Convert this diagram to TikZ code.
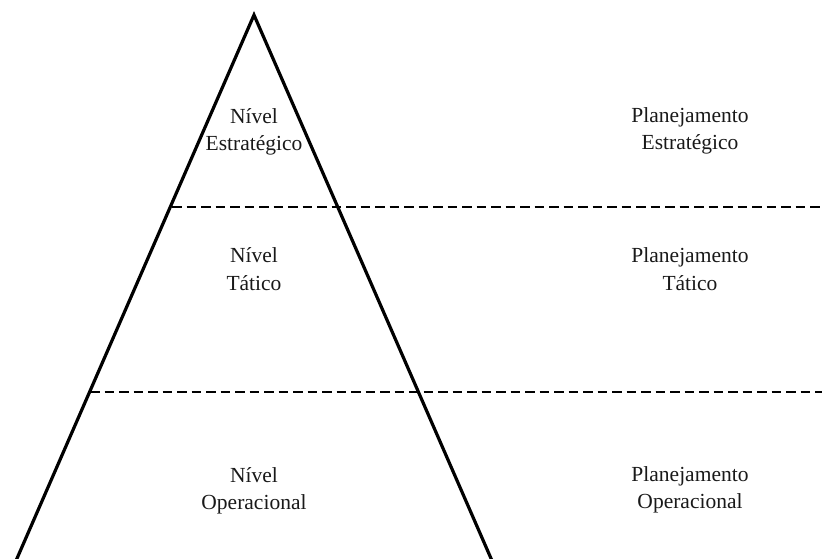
\documentclass[tikz,border=0pt]{standalone}
\usepackage{fontspec}
\setmainfont{Liberation Serif}
\begin{document}
\begin{tikzpicture}[x=1pt,y=-1pt,
  lbl/.style={align=center,font=\fontsize{21.5}{27.5}\selectfont,text=black!90,inner sep=0pt},
  edge/.style={line width=3.2pt,line join=miter},
  sep/.style={line width=2.7pt,dash pattern=on 9.5pt off 5pt}]
\useasboundingbox (0,0) rectangle (822,559);
\begin{scope}
\clip (0,0) rectangle (822,559);
\coordinate (apex) at (254,15);
\coordinate (bl) at (15,563);
\coordinate (br) at (493,563);
\draw[edge] (bl) -- (apex) -- (br);
\coordinate (d1a) at (172,207);
\coordinate (d1b) at (822,207);
\coordinate (d2a) at (90,392);
\coordinate (d2b) at (822,392);
\draw[sep] (d1a) -- (d1b);
\draw[sep] (d2a) -- (d2b);
\end{scope}
\node[lbl] (n1) at (254,132) {Nível\\Estratégico};
\node[lbl] (n2) at (254,269) {Nível\\Tático};
\node[lbl] (n3) at (254,491) {Nível\\Operacional};
\node[lbl] (p1) at (690,131) {Planejamento\\Estratégico};
\node[lbl] (p2) at (690,269) {Planejamento\\Tático};
\node[lbl] (p3) at (690,490) {Planejamento\\Operacional};
\end{tikzpicture}
\end{document}
